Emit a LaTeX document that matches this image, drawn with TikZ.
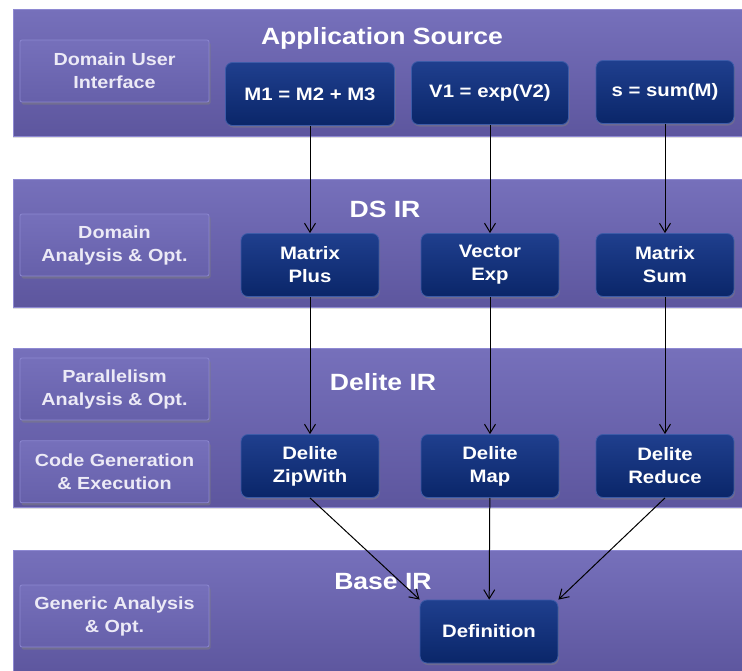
\documentclass[tikz,border=0pt]{standalone}
\usepackage{fontspec}
\setsansfont{Liberation Sans}[FakeStretch=1.13]
\usetikzlibrary{shapes, arrows.meta, positioning, calc, backgrounds, shadows}

\definecolor{layertop}{HTML}{7670BB}
\definecolor{layerbot}{HTML}{5D569E}
\definecolor{layeredge}{HTML}{8E89D2}
\definecolor{optop}{HTML}{1F3F8E}
\definecolor{opbot}{HTML}{0A2669}
\definecolor{opedge}{HTML}{3D5BA8}
\definecolor{phasetop}{HTML}{7670BB}
\definecolor{phasebot}{HTML}{6660AA}
\definecolor{phaseedge}{HTML}{8C87D0}
\definecolor{phasetext}{HTML}{ECEAF6}

\begin{document}
\begin{tikzpicture} [
    x=1pt, y=-1pt,
    layer/.style={rectangle, anchor=north west, draw=layeredge, top color=layertop, bottom color=layerbot, minimum width=729pt, drop shadow={shadow xshift=0pt, shadow yshift=-2pt, opacity=0.25}},
    title/.style={font=\sffamily\bfseries\fontsize{23.5}{28}\selectfont, text=white},
    phase/.style={rectangle, rounded corners=2pt, draw=phaseedge, line width=0.8pt, top color=phasetop, bottom color=phasebot, minimum width=189pt, minimum height=62pt, align=center, font=\sffamily\bfseries\fontsize{17.5}{23}\selectfont, text=phasetext, drop shadow={shadow xshift=1.5pt, shadow yshift=-2.5pt, opacity=0.5}},
    op/.style={rectangle, rounded corners=7pt, draw=opedge, line width=0.8pt, top color=optop, bottom color=opbot, minimum width=138pt, minimum height=63pt, align=center, font=\sffamily\bfseries\fontsize{18}{23}\selectfont, text=white, drop shadow={shadow xshift=1pt, shadow yshift=-2pt, opacity=0.45}},
    arrow/.style={-{Straight Barb[length=9pt, width=11pt]}, line width=1pt, black}
]
\useasboundingbox (0,0) rectangle (742,670);

% Layers
\node[layer, minimum height=127pt] (app_layer) at (13,9) {};
\node[layer, minimum height=128pt] (ds_layer) at (13,179) {};
\node[layer, minimum height=159pt] (delite_layer) at (13,348) {};
\node[layer, minimum height=125pt] (base_layer) at (13,550) {};

\node[title] (app_title) at (382,38) {Application Source};
\node[title] (ds_title) at (385,209) {DS IR};
\node[title] (delite_title) at (383,382) {Delite IR};
\node[title] (base_title) at (383,582) {Base IR};

% Phases on the left
\node[phase] (user_iface) at (114.5,71) {Domain User\\Interface};
\node[phase] (domain_opt) at (114.5,245) {Domain\\Analysis \& Opt.};
\node[phase] (parallel_opt) at (114.5,389) {Parallelism\\Analysis \& Opt.};
\node[phase, below=20pt of parallel_opt] (codegen) {Code Generation\\\& Execution};
\node[phase] (generic_opt) at (114.5,616) {Generic Analysis\\\& Opt.};

% Operations
\node[op, minimum width=169pt] (m_add) at (310,94) {M1 = M2 + M3};
\node[op, minimum width=157pt] (v_exp) at (490,93) {V1 = exp(V2)};
\node[op] (s_sum) at (665,92) {s = sum(M)};

\node[op] (matrix_plus) at (310,265) {Matrix\\Plus};
\node[op] (vector_exp) at (490,265) {Vector\\Exp};
\node[op] (matrix_sum) at (665,265) {Matrix\\Sum};

\node[op] (delite_zipwith) at (310,466) {Delite\\ZipWith};
\node[op] (delite_map) at (490,466) {Delite\\Map};
\node[op] (delite_reduce) at (665,466) {Delite\\Reduce};

\node[op] (definition) at (489,631.5) {Definition};

% Lowering
\draw[arrow] (m_add) -- (matrix_plus);
\draw[arrow] (v_exp) -- (vector_exp);
\draw[arrow] (s_sum) -- (matrix_sum);

\draw[arrow] (matrix_plus) -- (delite_zipwith);
\draw[arrow] (vector_exp) -- (delite_map);
\draw[arrow] (matrix_sum) -- (delite_reduce);

\draw[arrow] (delite_zipwith.south) -- (definition.north west);
\draw[arrow] (delite_map) -- (definition);
\draw[arrow] (delite_reduce.south) -- (definition.north east);

\end{tikzpicture}
\end{document}
